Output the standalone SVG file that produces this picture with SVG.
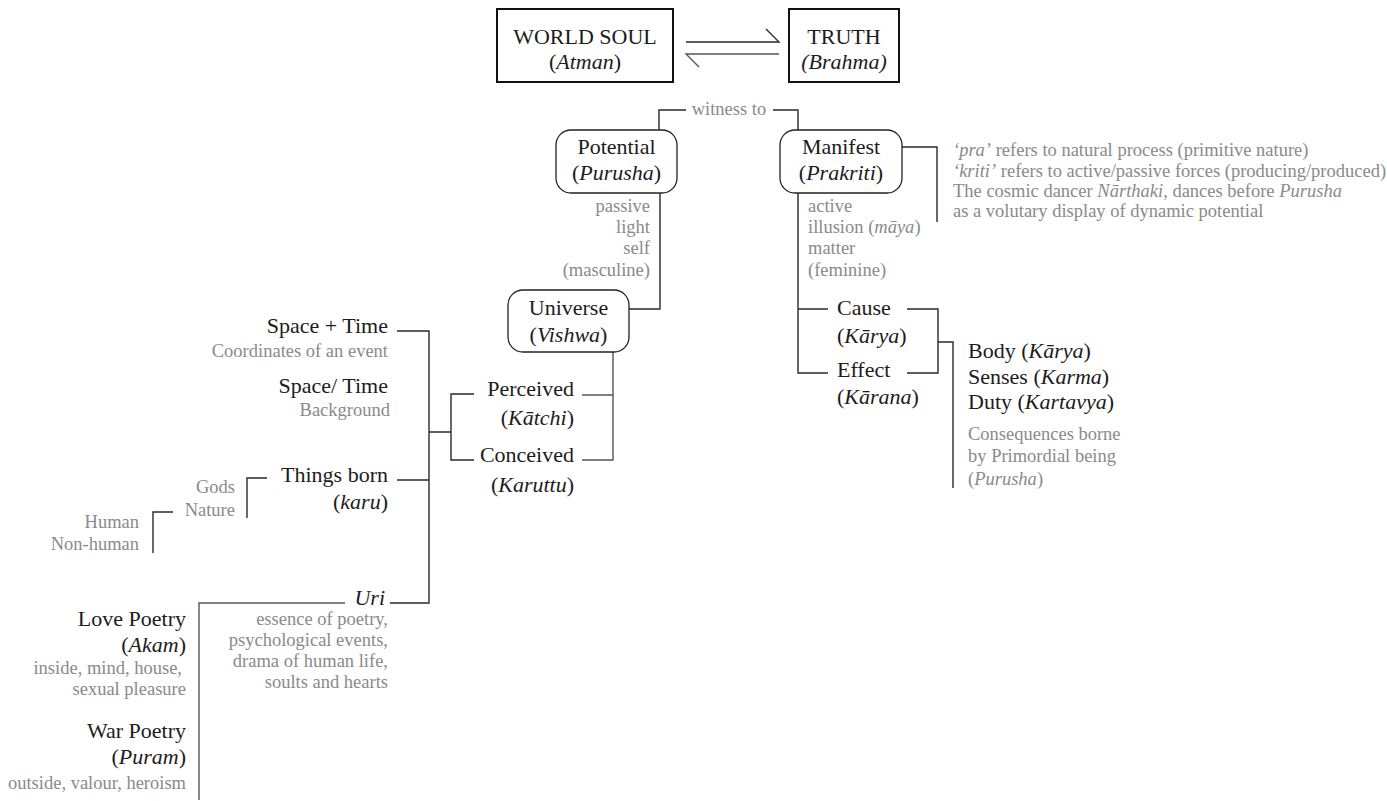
<svg xmlns="http://www.w3.org/2000/svg" width="1387" height="801" viewBox="0 0 1387 801">
<style>
text{font-family:"Liberation Serif","Times New Roman",serif}
.m{font-size:22px;fill:#1c1c1c}
.g{font-size:18.5px;fill:#8a8a8a}
.e{text-anchor:end}
.c{text-anchor:middle}
.i{font-style:italic}
.box{fill:#fff;stroke:#111;stroke-width:2}
.rb{fill:#fff;stroke:#222;stroke-width:1.3}
.ln{fill:none;stroke:#2a2a2a;stroke-width:1.4}
.lg{fill:none;stroke:#555;stroke-width:1.4}
</style>
<rect width="1387" height="801" fill="#fff"/>
<g id="connectors">
<path class="ln" d="M686,42 H779 L766,29"/>
<path class="lg" d="M779,54 H686 L699,67"/>
<path class="ln" d="M659,130 V110 H686 M773,110 H798 V130"/>
<path class="ln" d="M660,193 V309 H629"/>
<path class="ln" d="M902,147 H937 V222"/>
<path class="ln" d="M798,193 V373 H828 M798,309 H828"/>
<path class="ln" d="M907,309 H938 V373 H907 M938,342 H953 V488"/>
<path class="lg" d="M613,352 V460 H582 M613,395 H582"/>
<path class="ln" d="M474,394 H451 V460 H474 M451,432 H429"/>
<path class="ln" d="M397,331 H429 V603 H390 M397,480 H429"/>
<path class="ln" d="M267,478 H247 V518"/>
<path class="ln" d="M173,512 H153 V553"/>
<path class="lg" d="M345,603 H199 V800"/>
</g>
<g id="world-soul">
<rect class="box" x="497" y="9" width="176" height="73"/>
<text class="m c" x="585" y="44">WORLD SOUL</text>
<text class="m c" x="585" y="69">(<tspan class="i">Atman</tspan>)</text>
</g>
<g id="truth">
<rect class="box" x="789" y="9" width="110" height="73"/>
<text class="m c" x="844" y="44">TRUTH</text>
<text class="m c i" x="844" y="69">(Brahma)</text>
</g>
<g id="witness">
<text class="g c" x="729" y="115">witness to</text>
</g>
<g id="potential">
<rect class="rb" x="556" y="130" width="121" height="63" rx="15"/>
<text class="m c" x="616.5" y="154">Potential</text>
<text class="m c" x="616.5" y="180">(<tspan class="i">Purusha</tspan>)</text>
<text class="g e" x="650" y="212">passive</text>
<text class="g e" x="650" y="233">light</text>
<text class="g e" x="650" y="254">self</text>
<text class="g e" x="650" y="276">(masculine)</text>
</g>
<g id="manifest">
<rect class="rb" x="780" y="130" width="122" height="63" rx="15"/>
<text class="m c" x="841" y="154">Manifest</text>
<text class="m c" x="841" y="180">(<tspan class="i">Prakriti</tspan>)</text>
<text class="g" x="808" y="212">active</text>
<text class="g" x="808" y="233">illusion (<tspan class="i">māya</tspan>)</text>
<text class="g" x="808" y="254">matter</text>
<text class="g" x="808" y="276">(feminine)</text>
</g>
<g id="prakriti-note">
<text class="g" x="953" y="156"><tspan class="i">‘pra’</tspan> refers to natural process (primitive nature)</text>
<text class="g" x="953" y="177"><tspan class="i">‘kriti’</tspan> refers to active/passive forces (producing/produced)</text>
<text class="g" x="953" y="197">The cosmic dancer <tspan class="i">Nārthaki</tspan>, dances before <tspan class="i">Purusha</tspan></text>
<text class="g" x="953" y="217">as a volutary display of dynamic potential</text>
</g>
<g id="universe">
<rect class="rb" x="508" y="290" width="121" height="62" rx="15"/>
<text class="m c" x="568.5" y="315">Universe</text>
<text class="m c" x="568.5" y="342">(<tspan class="i">Vishwa</tspan>)</text>
</g>
<g id="cause">
<text class="m" x="837" y="315">Cause</text>
<text class="m" x="837" y="343">(<tspan class="i">Kārya</tspan>)</text>
</g>
<g id="effect">
<text class="m" x="837" y="377">Effect</text>
<text class="m" x="837" y="404">(<tspan class="i">Kārana</tspan>)</text>
</g>
<g id="body-senses-duty">
<text class="m" x="968" y="358">Body (<tspan class="i">Kārya</tspan>)</text>
<text class="m" x="968" y="384">Senses (<tspan class="i">Karma</tspan>)</text>
<text class="m" x="968" y="409">Duty (<tspan class="i">Kartavya</tspan>)</text>
<text class="g" x="968" y="440">Consequences borne</text>
<text class="g" x="968" y="462">by Primordial being</text>
<text class="g" x="968" y="485">(<tspan class="i">Purusha</tspan>)</text>
</g>
<g id="perceived">
<text class="m e" x="574" y="396">Perceived</text>
<text class="m e" x="574" y="425">(<tspan class="i">Kātchi</tspan>)</text>
</g>
<g id="conceived">
<text class="m e" x="574" y="462">Conceived</text>
<text class="m e" x="574" y="492">(<tspan class="i">Karuttu</tspan>)</text>
</g>
<g id="space-time">
<text class="m e" x="388" y="333">Space + Time</text>
<text class="g e" x="388" y="357">Coordinates of an event</text>
</g>
<g id="space-or-time">
<text class="m e" x="388" y="393">Space/ Time</text>
<text class="g e" x="390" y="416">Background</text>
</g>
<g id="things-born">
<text class="m e" x="388" y="482">Things born</text>
<text class="m e" x="388" y="509">(<tspan class="i">karu</tspan>)</text>
</g>
<g id="gods-nature">
<text class="g e" x="235" y="493">Gods</text>
<text class="g e" x="235" y="516">Nature</text>
</g>
<g id="human">
<text class="g e" x="139" y="528">Human</text>
<text class="g e" x="139" y="550">Non-human</text>
</g>
<g id="uri">
<text class="m e i" x="385" y="605">Uri</text>
<text class="g e" x="388" y="625">essence of poetry,</text>
<text class="g e" x="388" y="646">psychological events,</text>
<text class="g e" x="388" y="667">drama of human life,</text>
<text class="g e" x="388" y="688">soults and hearts</text>
</g>
<g id="love-poetry">
<text class="m e" x="186" y="626">Love Poetry</text>
<text class="m e" x="186" y="652">(<tspan class="i">Akam</tspan>)</text>
<text class="g e" x="182" y="674">inside, mind, house,</text>
<text class="g e" x="186" y="695">sexual pleasure</text>
</g>
<g id="war-poetry">
<text class="m e" x="186" y="738">War Poetry</text>
<text class="m e" x="186" y="764">(<tspan class="i">Puram</tspan>)</text>
<text class="g e" x="186" y="789">outside, valour, heroism</text>
</g>
</svg>
